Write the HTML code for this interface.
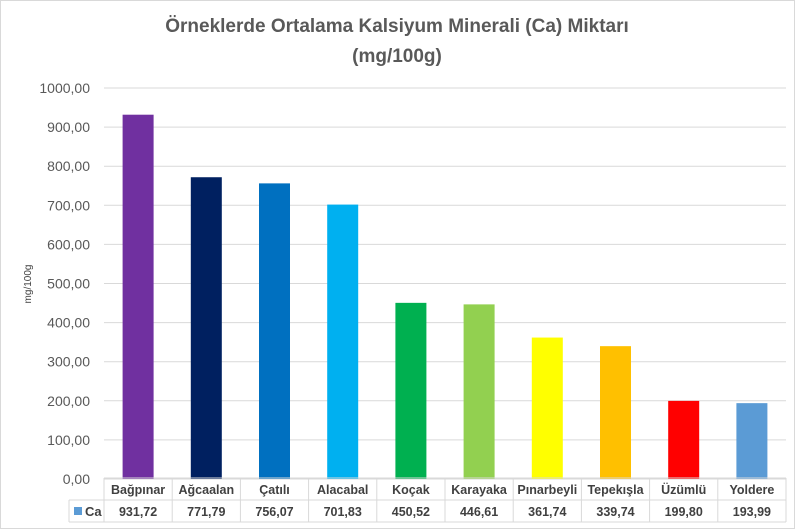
<!DOCTYPE html>
<html><head><meta charset="utf-8"><style>
body{margin:0;background:#fff;font-family:"Liberation Sans",sans-serif}
svg{display:block}
</style></head><body>
<svg id="chart" width="795" height="530" xmlns="http://www.w3.org/2000/svg">
<rect x="0.5" y="0.5" width="794" height="528" fill="#fff" stroke="#d9d9d9"/>
<text x="397" y="32" text-anchor="middle" font-size="19" font-weight="bold" fill="#595959">Örneklerde Ortalama Kalsiyum Minerali (Ca) Miktarı</text>
<text x="397" y="62" text-anchor="middle" font-size="19" font-weight="bold" fill="#595959">(mg/100g)</text>
<text transform="translate(31,284) rotate(-90)" text-anchor="middle" font-size="10" fill="#404040">mg/100g</text>
<g id="grid"></g><g id="bars"></g><g id="table"></g>
</svg>
<script>
const categories=["Bağpınar","Ağcaalan","Çatılı","Alacabal","Koçak","Karayaka","Pınarbeyli","Tepekışla","Üzümlü","Yoldere"];
const values=[931.72,771.79,756.07,701.83,450.52,446.61,361.74,339.74,199.80,193.99];
const labels=["931,72","771,79","756,07","701,83","450,52","446,61","361,74","339,74","199,80","193,99"];
const colors=["#7030a0","#002060","#0070c0","#00b0f0","#00b050","#92d050","#ffff00","#ffc000","#ff0000","#5b9bd5"];
const ticks=[0,100,200,300,400,500,600,700,800,900,1000];
const NS="http://www.w3.org/2000/svg";
const x0=104,x1=786,y0=479,yTop=88,maxV=1000;
const y=v=>y0-(v/maxV)*(y0-yTop);
const bw=(x1-x0)/categories.length;
const xc=i=>x0+bw*(i+0.5);
function mk(t,a,p){const e=document.createElementNS(NS,t);for(const k in a)e.setAttribute(k,a[k]);p.appendChild(e);return e;}
const g=document.getElementById('grid');
ticks.forEach(t=>{
 const l=mk('line',{x1:x0,x2:x1,y1:y(t),y2:y(t),stroke:'#d9d9d9'},g);
 
 
 const tx=mk('text',{x:x0-14,y:y(t)+5,'text-anchor':'end','font-size':'14',fill:'#595959'},g);
 
 
 tx.textContent=t.toFixed(2).replace('.',',');
});
const b=document.getElementById('bars');
values.forEach((v,i)=>{
 const r=mk('rect',{x:xc(i)-15.5,y:y(v),width:31,height:y0-y(v),fill:colors[i]},b);
 
 
});
const tb=document.getElementById('table');
const st='#d9d9d9';
[[x0,478,x1,478],[69,500,x1,500],[69,522,x1,522],[69,500,69,522]].forEach(c=>{
 const l=mk('line',{x1:c[0],y1:c[1],x2:c[2],y2:c[3],stroke:st},tb);
 
 
});
for(let i=0;i<=categories.length;i++){
 const l=mk('line',{x1:x0+bw*i,x2:x0+bw*i,y1:478,y2:522,stroke:st},tb);
 
 
}
const lk=mk('rect',{x:74,y:507,width:8,height:8,fill:'#5b9bd5'},tb);


const lt=mk('text',{x:85,y:516,'font-size':'13','font-weight':'bold',fill:'#404040'},tb);


lt.textContent='Ca';
categories.forEach((c,i)=>{
 const t=mk('text',{x:xc(i),y:494,'text-anchor':'middle','font-size':'12.5','font-weight':'bold',fill:'#404040'},tb);
 
 
 t.textContent=c;
 const v=mk('text',{x:xc(i),y:516,'text-anchor':'middle','font-size':'12.5','font-weight':'bold',fill:'#404040'},tb);
 
 
 v.textContent=labels[i];
});
</script>
</body></html>
